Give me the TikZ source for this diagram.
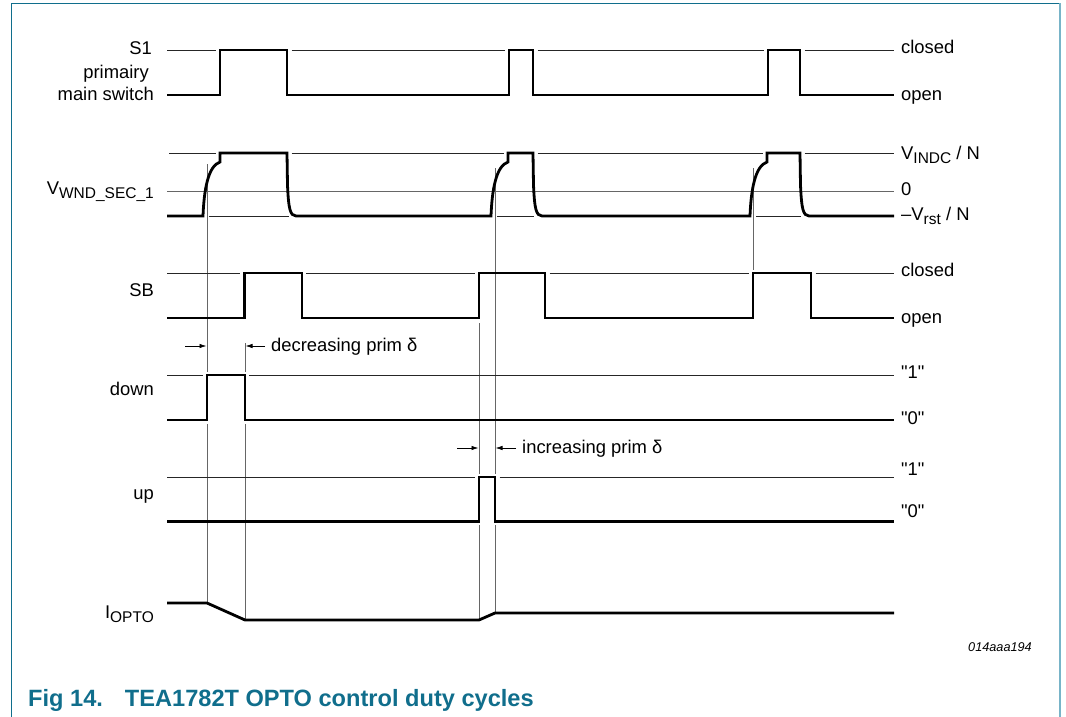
\documentclass[tikz,border=0pt]{standalone}
\usepackage{fontspec}
\setmainfont{Liberation Sans}[Ligatures=TeXOff]
\usetikzlibrary{arrows.meta}
\definecolor{nxpteal}{RGB}{16,110,140}
\definecolor{frameR}{RGB}{120,180,200}
\newcommand\mysub[1]{\raisebox{-4pt}{\fontsize{15.5}{16}\selectfont #1}}
\begin{document}
\begin{tikzpicture}[x=1pt,y=-1pt,
  wave/.style={line width=2.8pt, line join=miter, line cap=butt},
  refl/.style={line width=0.9pt, black!85},
  guide/.style={line width=0.9pt, black!60},
  lbl/.style={inner sep=0pt, font=\fontsize{18.4}{22}\selectfont},
  dimarr/.style={line width=0.8pt, -{Latex[length=7pt,width=4.5pt]}}
]
\useasboundingbox (0,0) rectangle (1066,717);

% frame
\draw[nxpteal, line width=1.3pt] (11.5,717) -- (11.5,3.3) -- (1060,3.3);
\draw[frameR, line width=2pt] (1060,3.3) -- (1060,717);

% left labels
\node[lbl, anchor=base east] (s1a) at (152,55) {S1};
\node[lbl, anchor=base east] (s1b) at (149,78.5) {primairy};
\node[lbl, anchor=base east] (s1c) at (154,100) {main switch};
\node[lbl, anchor=base east] (vw) at (154,194) {V\mysub{WND\_SEC\_1}};
\node[lbl, anchor=base east] (sb) at (154,296.5) {SB};
\node[lbl, anchor=base east] (dn) at (154,395.5) {down};
\node[lbl, anchor=base east] (upl) at (154,499) {up};
\node[lbl, anchor=base east] (io) at (154,618.3) {I\mysub{OPTO}};

% right labels
\node[lbl, anchor=base west] (r1) at (901,53.3) {closed};
\node[lbl, anchor=base west] (r2) at (901,100) {open};
\node[lbl, anchor=base west] (r3) at (901,159.5) {V\mysub{INDC} / N};
\node[lbl, anchor=base west] (r4) at (901,195) {0};
\node[lbl, anchor=base west] (r5) at (901,220.5) {–V\mysub{rst} / N};
\node[lbl, anchor=base west] (r6) at (901,276) {closed};
\node[lbl, anchor=base west] (r7) at (901,323) {open};
\node[lbl, anchor=base west] (r8) at (901,378.3) {"1"};
\node[lbl, anchor=base west] (r9) at (901,424) {"0"};
\node[lbl, anchor=base west] (r10) at (901,475) {"1"};
\node[lbl, anchor=base west] (r11) at (901,517.3) {"0"};

% guides (vertical timing lines)
\draw[guide] (207,164) -- (207,372) (207,424) -- (207,603);
\draw[guide] (245,343) -- (245,372) (245,424) -- (245,620);
\draw[guide] (479,323) -- (479,474) (479,525) -- (479,620);
\draw[guide] (495,168) -- (495,474) (495,525) -- (495,613);
\draw[guide] (753,168) -- (753,270);

% S1
\draw[refl] (167,50) -- (215.5,50) (291.5,50) -- (504.5,50) (537.5,50) -- (763.5,50) (804.5,50) -- (894,50);
\draw[wave] (167,95) -- (220,95) -- (220,50) -- (287,50) -- (287,95) -- (509,95) -- (509,50) -- (533,50) -- (533,95) -- (768,95) -- (768,50) -- (800,50) -- (800,95) -- (894,95);

% V_WND_SEC_1
\draw[guide] (167,191) -- (894,191);
\draw[refl] (169,153) -- (215.5,153) (291.5,153) -- (503.5,153) (537.5,153) -- (762.5,153) (804.5,153) -- (894,153);
\draw[refl] (209,216) -- (289,216) (497,216) -- (534,216) (756,216) -- (801,216);
\draw[wave] (167,216) -- (203,216)
  .. controls (204,190) and (208,166) .. (220,162) -- (220,153) -- (287,153) -- (287.5,185)
  .. controls (288.5,208) and (290,216) .. (296,216) -- (491,216)
  .. controls (492,190) and (496,166) .. (508,162) -- (508,153) -- (533,153) -- (533.5,185)
  .. controls (534.5,208) and (536,216) .. (542,216) -- (750,216)
  .. controls (751,190) and (755,166) .. (767,162) -- (767,153) -- (800,153) -- (800.5,185)
  .. controls (801.5,208) and (803,216) .. (809,216) -- (894,216);

% SB
\draw[refl] (167,273) -- (240,273) (306,273) -- (474.5,273) (549.5,273) -- (748.5,273) (815.5,273) -- (894,273);
\draw[wave] (167,318) -- (244.5,318) -- (244.5,273) -- (302,273) -- (302,318) -- (479,318) -- (479,273) -- (545,273) -- (545,318) -- (753,318) -- (753,273) -- (811,273) -- (811,318) -- (894,318);

% down
\draw[refl] (167,375) -- (203,375) (249,375) -- (894,375);
\draw[wave] (167,420) -- (207,420) -- (207,375) -- (245,375) -- (245,420) -- (894,420);

% up
\draw[refl] (167,477) -- (474.5,477) (499.5,477) -- (894,477);
\draw[wave] (167,521.5) -- (479,521.5) -- (479,477) -- (495,477) -- (495,521.5) -- (894,521.5);

% I_OPTO
\draw[wave] (167,603) -- (207,603) -- (245,620) -- (479,620) -- (495,613) -- (894,613);

% dimension arrows
\coordinate (d1t) at (185,346); \coordinate (d1h) at (206.5,346);
\coordinate (d2t) at (265,346); \coordinate (d2h) at (245.5,346);
\draw[dimarr] (d1t) -- (d1h);
\draw[dimarr] (d2t) -- (d2h);
\node[lbl, anchor=base west] (dec) at (271,351.5) {decreasing prim δ};
\coordinate (i1t) at (457,448); \coordinate (i1h) at (478.5,448);
\coordinate (i2t) at (516,448); \coordinate (i2h) at (495.5,448);
\draw[dimarr] (i1t) -- (i1h);
\draw[dimarr] (i2t) -- (i2h);
\node[lbl, anchor=base west] (inc) at (522,453) {increasing prim δ};

% id and caption
\node[anchor=base west, inner sep=0pt, font=\fontsize{12.7}{15}\selectfont\itshape] (fid) at (968,651.7) {014aaa194};
\node[anchor=base west, inner sep=0pt, font=\fontsize{23.6}{28}\selectfont\bfseries, text=nxpteal] (cap) at (28,706.7) {Fig 14.\hspace{22pt}TEA1782T OPTO control duty cycles};
\end{tikzpicture}
\end{document}
